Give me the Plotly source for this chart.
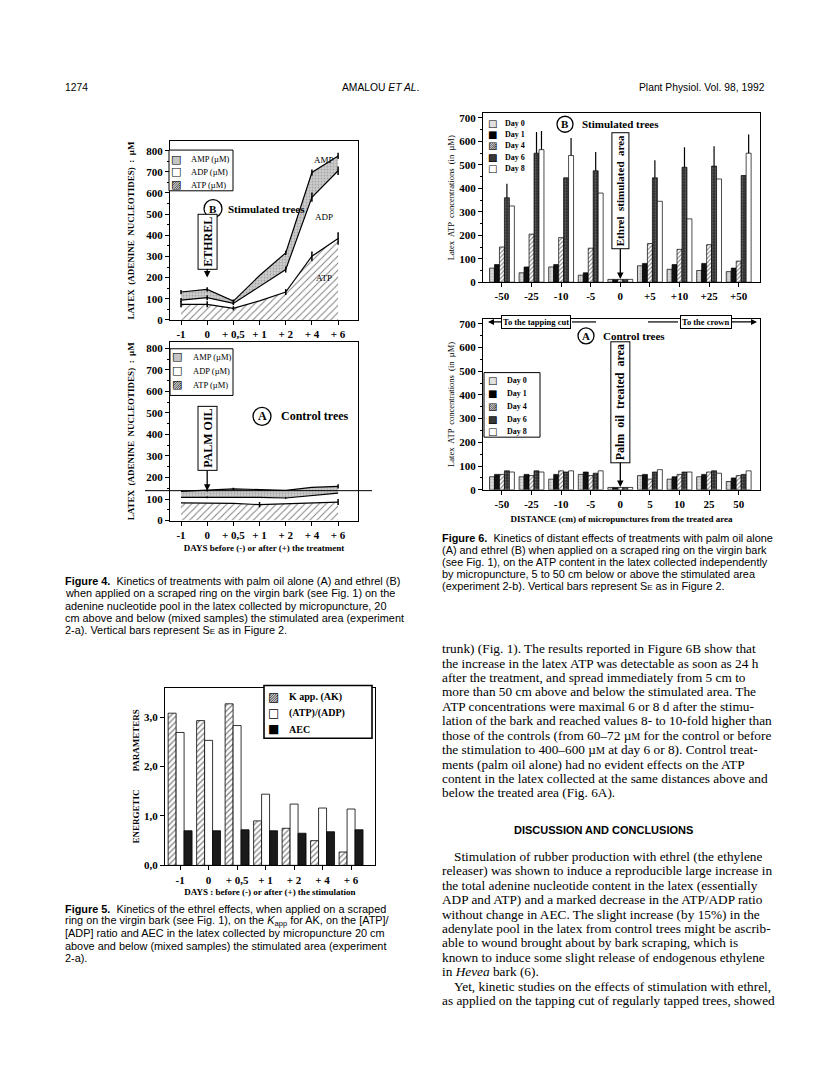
import numpy as np
import plotly.graph_objects as go

# the page body keeps an 8 px margin, so the figure is drawn 8 px in from the corner
OFF = 8
FW, FH = 808, 1065


def px(x):
    return (x - OFF) / FW


def py(y):
    return 1 - (y - OFF) / FH


# ---------------- data ----------------
DAYS_4 = ['-1', '0', '+ 0,5', '+ 1', '+ 2', '+ 4', '+ 6']

# Figure 4B - stimulated trees (µM)
ATP_B = [74, 74, 55, 90, 132, 301, 385]
ADP_B = [20, 31, 23, 70, 106, 279, 320]
AMP_B = [38, 39, 11, 50, 79, 117, 70]
ATP_B_SE = [14, 14, 10, 0, 14, 22, 30]
ADP_B_SE = [10, 12, 8, 0, 14, 22, 20]
AMP_B_SE = [10, 10, 8, 0, 10, 14, 15]

# Figure 4A - control trees (µM)
ATP_A = [82, 82, 80, 74, 78, 84, 86]
ADP_A = [26, 26, 30, 34, 27, 34, 42]
AMP_A = [28, 32, 37, 36, 35, 36, 31]
ATP_A_SE = [0, 0, 0, 12, 0, 0, 14]
ADP_A_SE = [0, 4, 0, 0, 4, 0, 0]
AMP_A_SE = [0, 5, 5, 0, 0, 0, 10]
CONTROL_LEVEL = 139
POOL_NAMES = ['ATP (µM)', 'ADP (µM)', 'AMP (µM)']

# Figure 5 - energetic parameters
DAYS_5 = ['-1', '0', '+ 0,5', '+ 1', '+ 2', '+ 4', '+ 6']
K_APP = [3.08, 2.93, 3.27, 0.90, 0.75, 0.50, 0.27]
ATP_ADP = [2.69, 2.53, 2.83, 1.44, 1.24, 1.16, 1.14]
AEC = [0.70, 0.70, 0.72, 0.70, 0.65, 0.68, 0.72]
PARAM_NAMES = ['K app. (AK)', '(ATP)/(ADP)', 'AEC']

# Figure 6 - latex ATP (µM) by distance
DIST_B = ['-50', '-25', '-10', '-5', '0', '+5', '+10', '+25', '+50']
DIST_A = ['-50', '-25', '-10', '-5', '0', '5', '10', '25', '50']
DAY_NAMES = ['Day 0', 'Day 1', 'Day 4', 'Day 6', 'Day 8']

B_DAY0 = [60, 40, 65, 30, 12, 70, 55, 50, 45]
B_DAY1 = [75, 65, 75, 40, 12, 80, 75, 80, 60]
B_DAY4 = [150, 205, 190, 145, 12, 165, 140, 160, 90]
B_DAY6 = [360, 550, 445, 475, 12, 445, 490, 495, 455]
B_DAY8 = [325, 565, 540, 380, 12, 345, 270, 440, 550]
B_DAY6_SE = [60, 90, 0, 80, 0, 75, 85, 85, 0]
B_DAY8_SE = [0, 80, 75, 0, 0, 0, 0, 0, 80]

A_DAY0 = [55, 55, 45, 65, 10, 60, 45, 55, 35]
A_DAY1 = [65, 65, 65, 75, 10, 65, 55, 65, 50]
A_DAY4 = [65, 60, 80, 60, 10, 45, 65, 75, 60]
A_DAY6 = [80, 80, 75, 70, 10, 75, 75, 80, 65]
A_DAY8 = [75, 75, 80, 80, 10, 85, 75, 70, 80]

SERIF = 'Liberation Serif'
SANS = 'Liberation Sans'
GLYPH = 'DejaVu Sans'

fig = go.Figure()

# ---------------- Figure 4 (stacked areas) ----------------
hatch = dict(shape='/', fgcolor='black', bgcolor='white', size=5, solidity=0.2)
dots = dict(shape='.', fgcolor='#777777', bgcolor='#d0d0d0', size=3, solidity=0.4)


def add_pool(atp, adp, amp, atp_se, adp_se, amp_se, xa, ya):
    lvl1 = np.array(atp)
    lvl2 = lvl1 + np.array(adp)
    lvl3 = lvl2 + np.array(amp)
    specs = [(lvl1, atp_se, 'tozeroy', dict(fillpattern=hatch, fillcolor='white')),
             (lvl2, adp_se, 'tonexty', dict(fillcolor='white')),
             (lvl3, amp_se, 'tonexty', dict(fillpattern=dots, fillcolor='#d0d0d0'))]
    for name, (yv, se, fill, extra) in zip(POOL_NAMES, specs):
        fig.add_trace(go.Scatter(
            x=DAYS_4, y=yv, name=name, mode='lines', fill=fill,
            line=dict(color='black', width=1.2),
            error_y=dict(type='data', array=se, color='black', thickness=1.5, width=0),
            xaxis=xa, yaxis=ya, **extra))


add_pool(ATP_B, ADP_B, AMP_B, ATP_B_SE, ADP_B_SE, AMP_B_SE, 'x', 'y')
add_pool(ATP_A, ADP_A, AMP_A, ATP_A_SE, ADP_A_SE, AMP_A_SE, 'x2', 'y2')

# ---------------- Figure 5 (grouped bars) ----------------
param_styles = [
    dict(color='white', line=dict(color='black', width=0.8),
         pattern=dict(shape='/', fgcolor='black', size=4, solidity=0.3)),
    dict(color='white', line=dict(color='black', width=0.8)),
    dict(color='#1a1a1a', line=dict(color='black', width=0.8)),
]
for name, vals, st in zip(PARAM_NAMES, [K_APP, ATP_ADP, AEC], param_styles):
    fig.add_trace(go.Bar(x=DAYS_5, y=vals, name=name, xaxis='x3', yaxis='y3', marker=st))

# ---------------- Figure 6 (grouped bars) ----------------
day_styles = [
    dict(color='#dcdcdc', line=dict(color='black', width=0.7),
         pattern=dict(shape='.', fgcolor='#888888', size=3, solidity=0.3)),
    dict(color='#111111', line=dict(color='black', width=0.7)),
    dict(color='white', line=dict(color='black', width=0.7),
         pattern=dict(shape='/', fgcolor='black', size=3, solidity=0.35)),
    dict(color='#303030', line=dict(color='black', width=0.7),
         pattern=dict(shape='.', fgcolor='#9a9a9a', size=3, solidity=0.3)),
    dict(color='white', line=dict(color='black', width=0.7)),
]
b_series = [B_DAY0, B_DAY1, B_DAY4, B_DAY6, B_DAY8]
b_errors = [None, None, None, B_DAY6_SE, B_DAY8_SE]
a_series = [A_DAY0, A_DAY1, A_DAY4, A_DAY6, A_DAY8]

for name, vals, err, st in zip(DAY_NAMES, b_series, b_errors, day_styles):
    kw = {}
    if err is not None:
        kw['error_y'] = dict(type='data', array=err, symmetric=False, arrayminus=[0] * len(err),
                             color='black', thickness=1.2, width=0)
    fig.add_trace(go.Bar(x=DIST_B, y=vals, name=name, xaxis='x4', yaxis='y4', marker=st, **kw))

for name, vals, st in zip(DAY_NAMES, a_series, day_styles):
    fig.add_trace(go.Bar(x=DIST_A, y=vals, name=name, xaxis='x5', yaxis='y5', marker=st))

# ---------------- axes ----------------
tickfont = dict(family=SERIF, size=11, color='black', weight='bold')
base = dict(showline=True, linecolor='black', linewidth=1, mirror=True, ticks='outside',
            ticklen=4, tickcolor='black', showgrid=False, zeroline=False, tickfont=tickfont)
minor = dict(ticks='outside', ticklen=2, dtick=50, tickcolor='black')


def xax(dom, rng, **kw):
    d = dict(base, type='category', domain=[px(dom[0]), px(dom[1])], range=rng)
    d.update(kw)
    return d


def yax(dom, rng, **kw):
    d = dict(base, domain=[py(dom[0]), py(dom[1])], range=rng)
    d.update(kw)
    return d


title4 = dict(text='LATEX  (ADENINE  NUCLEOTIDES)  :  µM',
              font=dict(family=SERIF, size=9, color='black', weight='bold'), standoff=10)
title6 = dict(text='Latex  ATP  concentrations  (in  µM)',
              font=dict(family=SERIF, size=8.5, color='black'), standoff=3)
xt_font = dict(family=SERIF, size=9, color='black', weight='bold')

fig.update_layout(
    xaxis=xax((170, 358), [-0.42, 6.76], anchor='y'),
    yaxis=yax((321, 141), [0, 845], anchor='x', dtick=100, title=title4, minor=minor),
    xaxis2=xax((170, 358), [-0.42, 6.76], anchor='y2',
               title=dict(text='DAYS before (-) or after (+) the treatment', font=xt_font, standoff=4)),
    yaxis2=yax((523, 343), [0, 830], anchor='x2', dtick=100, title=title4, minor=minor),
    xaxis3=xax((165, 375), [-0.53, 6.84], anchor='y3',
               title=dict(text='DAYS : before (-) or after (+) the stimulation', font=xt_font, standoff=4)),
    yaxis3=yax((870, 691), [0, 3.6], anchor='x3', tickvals=[0, 1, 2, 3], tickformat='.1f',
               title=dict(text='ENERGETIC        PARAMETERS',
                          font=dict(family=SERIF, size=9, color='black', weight='bold'), standoff=2)),
    xaxis4=xax((483, 760), [-0.64, 8.72], anchor='y4'),
    yaxis4=yax((283, 113), [0, 720], anchor='x4', dtick=100, title=title6, minor=minor),
    xaxis5=xax((483, 760), [-0.64, 8.72], anchor='y5',
               title=dict(text='DISTANCE (cm) of micropunctures from the treated area', font=xt_font, standoff=6)),
    yaxis5=yax((492, 320), [0, 720], anchor='x5', dtick=100, title=title6, minor=minor),
    barmode='group', bargap=0.16, bargroupgap=0,
    separators=', ',
    width=FW, height=FH, margin=dict(l=0, r=0, t=0, b=0),
    paper_bgcolor='white', plot_bgcolor='white', showlegend=False,
)

# ---------------- annotations and decorations ----------------
ann = []
shapes = []


def box(x0, y0, x1, y1, width=1):
    shapes.append(dict(type='rect', xref='paper', yref='paper', x0=px(x0), x1=px(x1),
                       y0=py(y1), y1=py(y0), line=dict(color='black', width=width), fillcolor='white',
                       layer='above'))


# key boxes drawn with glyph swatches
SW_HATCH = [('▨', 'black')]
SW_WHITE = [('□', 'black')]
SW_BLACK = [('■', 'black')]
SW_GREY = [('■', '#c4c4c4'), ('□', 'black')]
SW_LIGHT = [('■', '#e0e0e0'), ('□', 'black')]
SW_DARK = [('■', '#383838'), ('□', 'black')]


def key(labels, swatches, gx, lx, ys, gsize, lfont):
    for lab, sw, y in zip(labels, swatches, ys):
        for g, col in sw:
            ann.append(dict(text=g, x=px(gx), y=py(y), xanchor='center', yanchor='middle',
                            font=dict(family=GLYPH, size=gsize, color=col)))
        ann.append(dict(text=lab, x=px(lx), y=py(y), xanchor='left', yanchor='middle', font=lfont))


pool_font = dict(family=SERIF, size=8.5, color='black')
pool_labels = POOL_NAMES[::-1]
pool_sw = [SW_GREY, SW_WHITE, SW_HATCH]
box(169, 150, 233, 191)
key(pool_labels, pool_sw, 176, 189, [159, 172, 185], 11, pool_font)
box(170, 350, 233, 397)
key(pool_labels, pool_sw, 177, 191, [358, 372, 386], 11, pool_font)

box(264, 689, 372, 742, width=1.6)
key(PARAM_NAMES, [SW_HATCH, SW_WHITE, SW_BLACK], 273, 287, [701, 717, 733], 12,
    dict(family=SERIF, size=10, color='black', weight='bold'))

day_font = dict(family=SERIF, size=8, color='black', weight='bold')
day_sw = [SW_LIGHT, SW_BLACK, SW_HATCH, SW_DARK, SW_WHITE]
key(DAY_NAMES, day_sw, 492, 503, [123, 134, 145, 157, 169], 10, day_font)
box(484, 374, 540, 439)
key(DAY_NAMES, day_sw, 492, 505, [382, 395, 408, 421, 433], 10, day_font)

# page header
hdr = dict(family=SANS, size=10.3, color='black')
ann.append(dict(text='1274', x=px(63), y=py(87), xanchor='left', yanchor='middle', font=hdr))
ann.append(dict(text='AMALOU <i>ET AL</i>.', x=px(380), y=py(87), xanchor='center', yanchor='middle', font=hdr))
ann.append(dict(text='Plant Physiol. Vol. 98, 1992', x=px(767), y=py(87), xanchor='right', yanchor='middle', font=hdr))


def circled(letter, cx, cy, r, label, lx, size=11):
    shapes.append(dict(type='circle', xref='paper', yref='paper', xsizemode='pixel', ysizemode='pixel',
                       xanchor=px(cx), yanchor=py(cy), x0=-r, x1=r, y0=-r, y1=r,
                       line=dict(color='black', width=1.3), fillcolor='white'))
    ann.append(dict(text='<b>%s</b>' % letter, x=px(cx), y=py(cy), xanchor='center', yanchor='middle',
                    font=dict(family=SERIF, size=size, color='black')))
    ann.append(dict(text='<b>%s</b>' % label, x=px(lx), y=py(cy), xanchor='left', yanchor='middle',
                    font=dict(family=SERIF, size=size, color='black')))


circled('B', 213, 209, 9, 'Stimulated trees', 226)
circled('A', 262, 418, 9, 'Control trees', 279, size=12)
circled('B', 565, 124, 8, 'Stimulated trees', 580)
circled('A', 586, 337, 8, 'Control trees', 601)


def boxed_arrow(text, xref, yref, xidx, yval, ay, size):
    ann.append(dict(text='<b>%s</b>' % text, textangle=-90, xref=xref, yref=yref, x=xidx, y=yval,
                    ax=0, ay=ay, showarrow=True, arrowhead=2, arrowsize=1, arrowwidth=1.3,
                    arrowcolor='black', bordercolor='black', borderwidth=1, borderpad=2,
                    bgcolor='white', font=dict(family=SERIF, size=size, color='black')))


boxed_arrow('ETHREL', 'x', 'y', DAYS_4.index('0'), 200, -36, 12)
boxed_arrow('PALM OIL', 'x2', 'y2', DAYS_4.index('0'), 139, -52, 12)
boxed_arrow('Ethrel  stimulated  area', 'x4', 'y4', DIST_B.index('0'), 14, -88, 11)
boxed_arrow('Palm  oil  treated  area', 'x5', 'y5', DIST_A.index('0'), 12, -85, 12)

# region labels on figure 4B
for t, xv, yv in [('AMP', 5.45, 755), ('ADP', 5.45, 485), ('ATP', 5.45, 200)]:
    ann.append(dict(text=t, xref='x', yref='y', x=xv, y=yv, showarrow=False,
                    font=dict(family=SERIF, size=9, color='black')))

# control reference line in figure 4A
shapes.append(dict(type='line', xref='paper', yref='y2', x0=px(145), x1=px(372),
                   y0=CONTROL_LEVEL, y1=CONTROL_LEVEL, line=dict(color='black', width=1)))

# direction arrows in figure 6A
arr_font = dict(family=SERIF, size=8.5, color='black', weight='bold')
ann.append(dict(text='To the tapping cut', x=px(488), y=py(323), ax=48, ay=0, showarrow=True,
                arrowhead=2, arrowwidth=1.2, arrowcolor='black', bordercolor='black', borderwidth=1,
                borderpad=1, bgcolor='white', font=arr_font))
ann.append(dict(text='To the crown', x=px(757), y=py(323), ax=-51, ay=0, showarrow=True,
                arrowhead=2, arrowwidth=1.2, arrowcolor='black', bordercolor='black', borderwidth=1,
                borderpad=1, bgcolor='white', font=arr_font))
for x0, x1 in [(572, 596), (648, 678)]:
    shapes.append(dict(type='line', xref='paper', yref='paper', x0=px(x0), x1=px(x1),
                       y0=py(323), y1=py(323), line=dict(color='black', width=1.2)))

# ---------------- captions and body text ----------------
cap_font = dict(family=SANS, size=10.9, color='black')
body_font = dict(family=SERIF, size=13.3, color='black')


def text_block(lines, x0, y0, step, font):
    for i, line in enumerate(lines):
        if line.startswith('\t'):
            line, x = line[1:], x0 + 12
        else:
            x = x0
        ann.append(dict(text=line, x=px(x), y=py(y0 + i * step), xanchor='left', yanchor='middle',
                        font=font))


SE = 'S<span style="font-size:8px">E</span>'
MU = 'µ<span style="font-size:10px">M</span>'

text_block([
    '<b>Figure 4.</b>  Kinetics of treatments with palm oil alone (A) and ethrel (B)',
    'when applied on a scraped ring on the virgin bark (see Fig. 1) on the',
    'adenine nucleotide pool in the latex collected by micropuncture, 20',
    'cm above and below (mixed samples) the stimulated area (experiment',
    '2-a). Vertical bars represent %s as in Figure 2.' % SE,
], 63, 584, 12.25, cap_font)

text_block([
    '<b>Figure 5.</b>  Kinetics of the ethrel effects, when applied on a scraped',
    'ring on the virgin bark (see Fig. 1), on the <i>K</i><sub>app</sub> for AK, on the [ATP]/',
    '[ADP] ratio and AEC in the latex collected by micropuncture 20 cm',
    'above and below (mixed samples) the stimulated area (experiment',
    '2-a).',
], 63, 914, 12.25, cap_font)

text_block([
    '<b>Figure 6.</b>  Kinetics of distant effects of treatments with palm oil alone',
    '(A) and ethrel (B) when applied on a scraped ring on the virgin bark',
    '(see Fig. 1), on the ATP content in the latex collected independently',
    'by micropuncture, 5 to 50 cm below or above the stimulated area',
    '(experiment 2-b). Vertical bars represent %s as in Figure 2.' % SE,
], 440, 540, 12.25, cap_font)

text_block([
    'trunk) (Fig. 1). The results reported in Figure 6B show that',
    'the increase in the latex ATP was detectable as soon as 24 h',
    'after the treatment, and spread immediately from 5 cm to',
    'more than 50 cm above and below the stimulated area. The',
    'ATP concentrations were maximal 6 or 8 d after the stimu-',
    'lation of the bark and reached values 8- to 10-fold higher than',
    'those of the controls (from 60–72 %s for the control or before' % MU,
    'the stimulation to 400–600 %s at day 6 or 8). Control treat-' % MU,
    'ments (palm oil alone) had no evident effects on the ATP',
    'content in the latex collected at the same distances above and',
    'below the treated area (Fig. 6A).',
], 440, 652, 14.5, body_font)

ann.append(dict(text='<b>DISCUSSION AND CONCLUSIONS</b>', x=px(603), y=py(834), xanchor='center',
                yanchor='middle', font=dict(family=SANS, size=11, color='black')))

text_block([
    '\tStimulation of rubber production with ethrel (the ethylene',
    'releaser) was shown to induce a reproducible large increase in',
    'the total adenine nucleotide content in the latex (essentially',
    'ADP and ATP) and a marked decrease in the ATP/ADP ratio',
    'without change in AEC. The slight increase (by 15%) in the',
    'adenylate pool in the latex from control trees might be ascrib-',
    'able to wound brought about by bark scraping, which is',
    'known to induce some slight release of endogenous ethylene',
    'in <i>Hevea</i> bark (6).',
    '\tYet, kinetic studies on the effects of stimulation with ethrel,',
    'as applied on the tapping cut of regularly tapped trees, showed',
], 440, 861, 14.5, body_font)

for a in ann:
    a.setdefault('xref', 'paper')
    a.setdefault('yref', 'paper')
    a.setdefault('showarrow', False)

fig.update_layout(annotations=ann, shapes=shapes)

fig.write_html('out.html')
